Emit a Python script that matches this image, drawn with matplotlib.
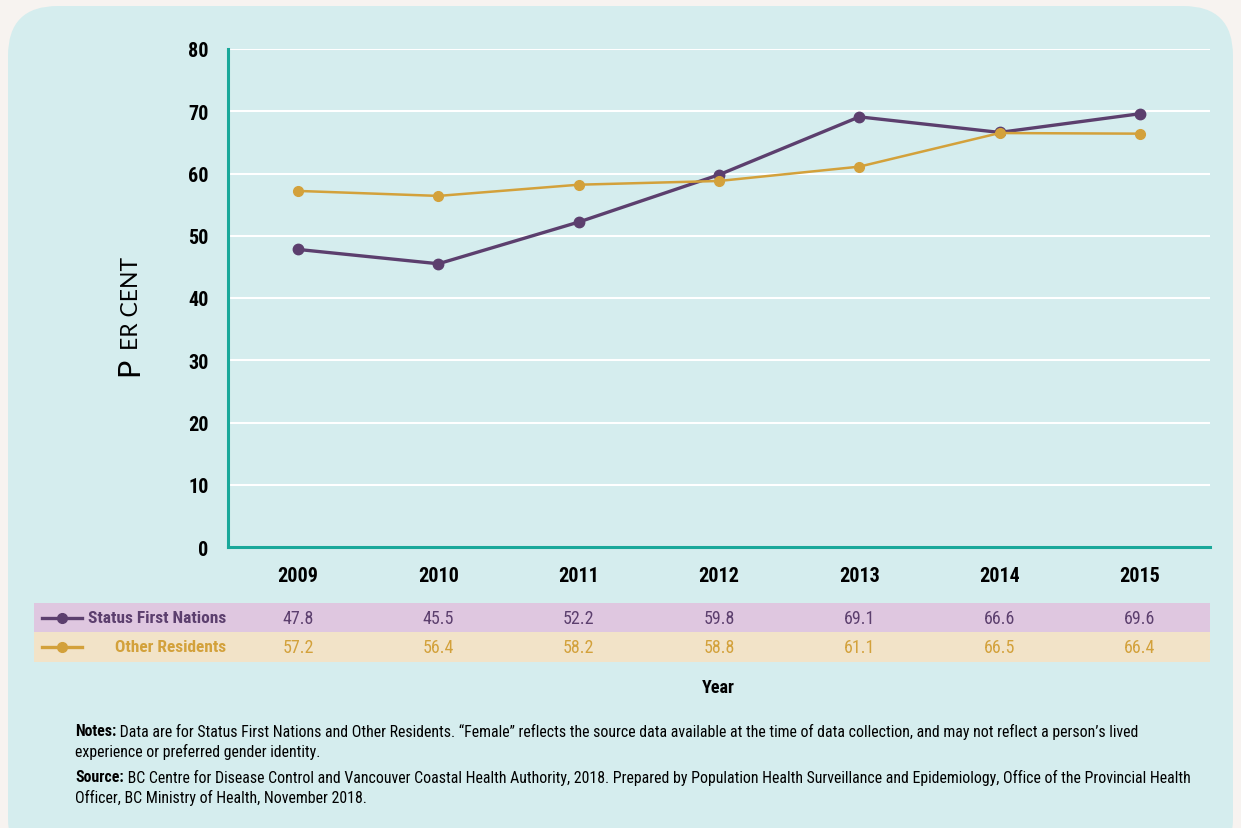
import numpy as np
import matplotlib.pyplot as plt
from matplotlib.patches import FancyBboxPatch
from matplotlib.transforms import blended_transform_factory

plt.rcParams['font.family'] = ['Roboto Condensed', 'DejaVu Sans']

# Données
years = [2009, 2010, 2011, 2012, 2013, 2014, 2015]
first_nations = [47.8, 45.5, 52.2, 59.8, 69.1, 66.6, 69.6]
other_residents = [57.2, 56.4, 58.2, 58.8, 61.1, 66.5, 66.4]
series_names = ["Status First Nations", "Other Residents"]
yticks = [0, 10, 20, 30, 40, 50, 60, 70, 80]

purple = "#5c3f6e"
gold = "#d3a13b"
teal = "#1aa89a"
panel_bg = "#d5edee"

W, H = 1241, 829
fig = plt.figure(figsize=(W / 100, H / 100), dpi=100)
fig.patch.set_facecolor("#f7f3f0")

def fx(px):
    return px / W

def fy(py):
    return 1 - py / H

# Panneau de fond arrondi
panel = FancyBboxPatch((fx(8), fy(869)), fx(1225), (869 - 7) / H,
                       boxstyle="round,pad=0,rounding_size=0.04",
                       transform=fig.transFigure, facecolor=panel_bg, edgecolor="none",
                       mutation_aspect=W / H, zorder=-2)
fig.patches.append(panel)

ax = fig.add_axes([fx(228), fy(548), fx(1210) - fx(228), fy(50) - fy(548)])
ax.set_zorder(2)
ax.set_facecolor("none")
ax.set_xlim(2008.5, 2015.5)
ax.set_ylim(0, 80)
ax.set_yticks(yticks)
ax.set_xticks(years)
ax.yaxis.grid(True, color="white", lw=1.5)
ax.set_axisbelow(True)
for s in ["top", "right"]:
    ax.spines[s].set_visible(False)
for s in ["left", "bottom"]:
    ax.spines[s].set_color(teal)
    ax.spines[s].set_linewidth(2.2)
ax.tick_params(length=0, labelsize=14.5, pad=14)
for lab in ax.get_xticklabels() + ax.get_yticklabels():
    lab.set_fontweight("bold")

ax.plot(years, first_nations, color=purple, lw=2.4, marker="o", ms=7.5, zorder=3)
ax.plot(years, other_residents, color=gold, lw=1.8, marker="o", ms=7, zorder=3)

# Titre de l'axe Y en petites capitales
fig.text(fx(138), fy(376), "P", rotation=90, rotation_mode="anchor", fontsize=22,
         family="Lato", ha="left", va="baseline", color="black")
fig.text(fx(138), fy(350), "ER CENT", rotation=90, rotation_mode="anchor", fontsize=16.5,
         family="Lato", ha="left", va="baseline", color="black")

# Tableau de données sous le graphique
band_rows = [(604, 633, "#dfc7e0"), (633, 663, "#f2e3c8")]
for top, bot, col in band_rows:
    fig.patches.append(plt.Rectangle((fx(34), fy(bot)), fx(1210) - fx(34), fy(top) - fy(bot),
                                     transform=fig.transFigure, facecolor=col, edgecolor="none",
                                     zorder=-1))

trans = blended_transform_factory(ax.transData, fig.transFigure)
rows = [(first_nations, purple, 619), (other_residents, gold, 648)]
for name, (vals, col, py) in zip(series_names, rows):
    fig.lines.append(plt.Line2D([fx(42), fx(82)], [fy(py), fy(py)], color=col, lw=2.4,
                                transform=fig.transFigure, zorder=2))
    fig.lines.append(plt.Line2D([fx(62)], [fy(py)], color=col, marker="o", ms=7,
                                transform=fig.transFigure, zorder=2))
    fig.text(fx(226), fy(py), name, color=col, fontsize=12.5, fontweight="bold",
             ha="right", va="center", zorder=3)
    for x, v in zip(years, vals):
        ax.text(x, fy(py), f"{v:.1f}", transform=trans, color=col, fontsize=13,
                ha="center", va="center", zorder=3)

fig.text(fx(718), fy(688), "Year", fontsize=13, fontweight="bold", ha="center", va="center")

# Notes et source
renderer = fig.canvas.get_renderer()
note_lines = [
    ("Notes:", " Data are for Status First Nations and Other Residents. \u201cFemale\u201d reflects the source data available at the time of data collection, and may not reflect a person\u2019s lived", 732),
    ("", "experience or preferred gender identity.", 752),
    ("Source:", " BC Centre for Disease Control and Vancouver Coastal Health Authority, 2018. Prepared by Population Health Surveillance and Epidemiology, Office of the Provincial Health", 778),
    ("", "Officer, BC Ministry of Health, November 2018.", 798),
]
for bold, rest, py in note_lines:
    x0 = fx(75)
    if bold:
        t = fig.text(x0, fy(py), bold, fontsize=11.4, fontweight="bold", ha="left", va="center")
        bb = t.get_window_extent(renderer=renderer)
        x0 = fx(bb.x1)
    fig.text(x0, fy(py), rest, fontsize=11.4, ha="left", va="center")

fig.savefig("out.png", dpi=100, facecolor=fig.get_facecolor())
